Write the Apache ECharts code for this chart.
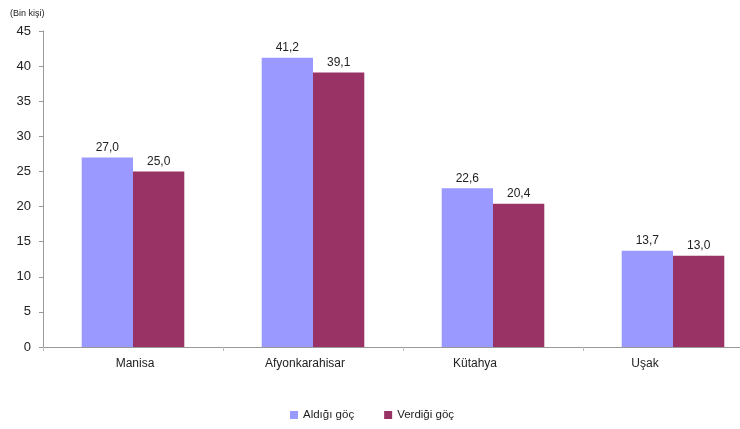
<!DOCTYPE html>
<html><head><meta charset="utf-8">
<script src="https://cdn.jsdelivr.net/npm/echarts@6/dist/echarts.min.js"></script>
<style>html,body{margin:0;padding:0;background:#fff;overflow:hidden;width:740px;height:429px}#c{width:764px;height:429px}</style>
</head><body><div id="c"></div>
<script>
const categories = ['Manisa', 'Afyonkarahisar', 'Kütahya', 'Uşak'];
const aldigi = [27.0, 41.2, 22.6, 13.7];
const verdigi = [25.0, 39.1, 20.4, 13.0];
const seriesNames = ['Aldığı göç', 'Verdiği göç'];
const unitLabel = '(Bin kişi)';

const chart = echarts.init(document.getElementById('c'));
const fontFamily = 'Liberation Sans, Arial, sans-serif';
const lbl = {show: true, position: 'top', fontSize: 12, color: '#222', fontFamily, distance: 4,
  formatter: p => p.value.toFixed(1).replace('.', ',')};
chart.setOption({
  animation: false,
  textStyle: {fontFamily},
  grid: [
    {left: 43, right: 1, top: 31, bottom: 82},
    {left: 50, width: 680, top: 31, bottom: 82}
  ],
  graphic: [{type: 'text', left: 10, top: 9, style: {text: unitLabel, fontSize: 9, fill: '#222', fontFamily}}],
  legend: {bottom: 8, left: 290, padding: 0, itemWidth: 8, itemHeight: 8, itemGap: 30,
    textStyle: {fontSize: 11.5, color: '#222'}, icon: 'rect', data: seriesNames},
  xAxis: [
    {type: 'category', data: categories, gridIndex: 0,
      axisLine: {lineStyle: {color: '#999'}},
      axisTick: {show: true, length: 4, lineStyle: {color: '#bbb'}},
      axisLabel: {show: false}},
    {type: 'category', data: categories, gridIndex: 1,
      axisLine: {show: false}, axisTick: {show: false},
      axisLabel: {fontSize: 12, color: '#222', margin: 11}}
  ],
  yAxis: [
    {type: 'value', min: 0, max: 45, interval: 5, gridIndex: 0,
      axisLine: {show: true, lineStyle: {color: '#999'}},
      axisTick: {show: true, length: 4, lineStyle: {color: '#999'}},
      splitLine: {show: false},
      axisLabel: {fontSize: 13, color: '#222', margin: 12}},
    {type: 'value', min: 0, max: 45, gridIndex: 1, show: false}
  ],
  series: [
    {name: seriesNames[0], type: 'bar', data: aldigi, barGap: '0%', barCategoryGap: '43%',
      itemStyle: {color: '#9999FF'}, label: lbl},
    {name: seriesNames[1], type: 'bar', data: verdigi, barGap: '0%', barCategoryGap: '43%',
      itemStyle: {color: '#993366'}, label: lbl}
  ]
});
</script></body></html>
